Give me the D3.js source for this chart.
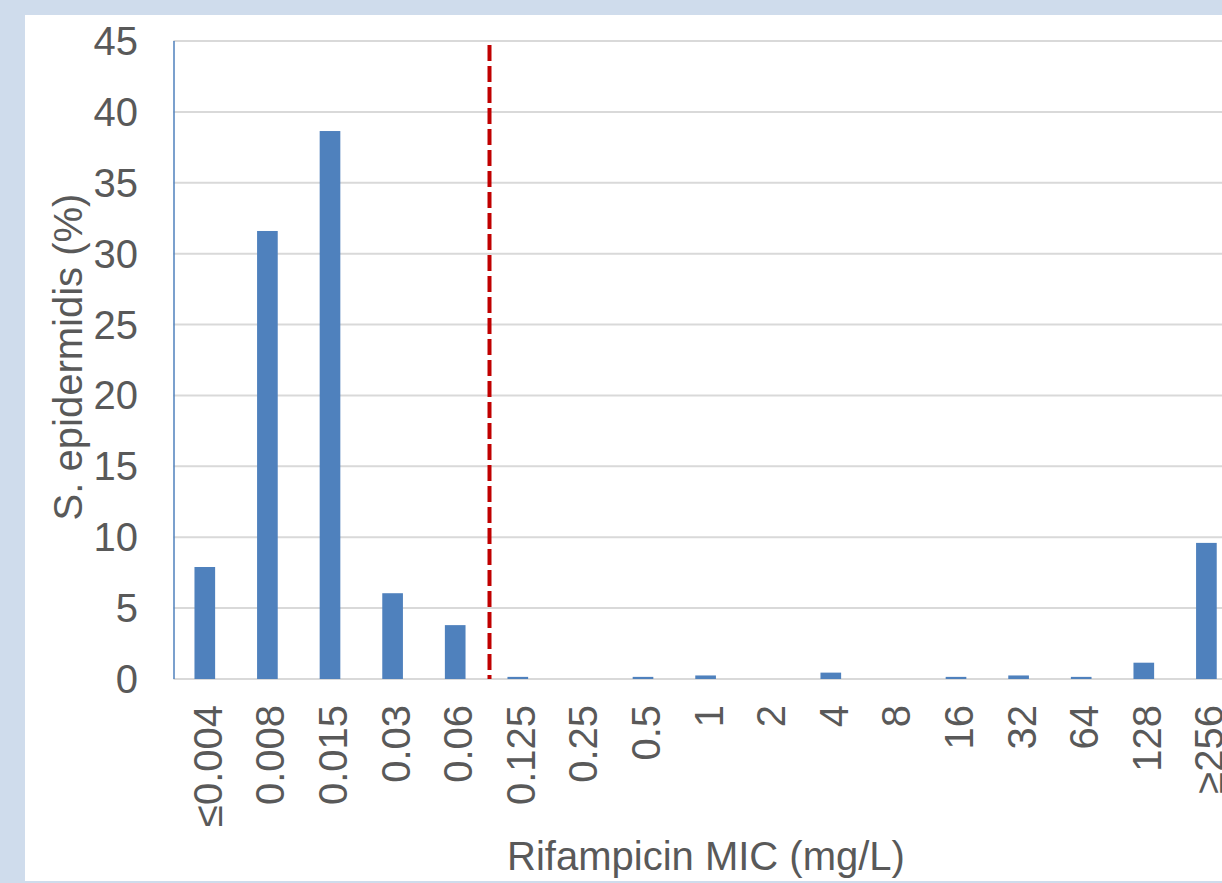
<!DOCTYPE html>
<html><head><meta charset="utf-8">
<script src="https://cdn.jsdelivr.net/npm/d3@7"></script>
<style>
html,body{margin:0;padding:0;background:#cfdcec;}
svg{display:block;font-family:"Liberation Sans",Arial,sans-serif;}
</style></head>
<body>
<svg id="c" width="1222" height="883"></svg>
<script>
const categories = ["≤0.004","0.008","0.015","0.03","0.06","0.125","0.25","0.5","1","2","4","8","16","32","64","128","≥256"];
const values = [7.9,31.6,38.65,6.05,3.8,0.15,0,0.15,0.25,0,0.45,0,0.15,0.25,0.15,1.15,9.6];
const yTicks = [0,5,10,15,20,25,30,35,40,45];
const breakpointAfter = "0.06";
const yTitle = "S. epidermidis (%)";
const xTitle = "Rifampicin MIC (mg/L)";

(function(){
const svg = d3.select("#c");
svg.append("rect").attr("x",0).attr("y",0).attr("width",1222).attr("height",883).attr("fill","#cfdcec");
svg.append("rect").attr("x",25).attr("y",15).attr("width",1197).attr("height",866).attr("fill","#ffffff");

const plotLeft = 173.5, plotTop = 41, plotBottom = 679;
const step = 62.6;
const x = d3.scaleBand().domain(categories).range([plotLeft, plotLeft + step*categories.length]).paddingInner(0.67).paddingOuter(0.335);
const y = d3.scaleLinear().domain([0,45]).range([plotBottom, plotTop]);

svg.append("g").selectAll("line").data(yTicks).join("line")
  .attr("x1", plotLeft).attr("x2", 1222)
  .attr("y1", d=>y(d)).attr("y2", d=>y(d))
  .attr("stroke", "#d9d9d9").attr("stroke-width", 2);

svg.append("g").selectAll("text").data(yTicks).join("text")
  .attr("x", 138).attr("y", d=>y(d)).attr("dy","0.35em")
  .attr("text-anchor","end").attr("font-size",40).attr("fill","#595959")
  .text(d=>d);

svg.append("line").attr("x1",plotLeft+0.5).attr("x2",plotLeft+0.5).attr("y1",y(45)).attr("y2",y(0))
  .attr("stroke","#4f81bd").attr("stroke-width",1.5);

svg.append("g").selectAll("rect").data(values).join("rect")
  .attr("x",(d,i)=>x(categories[i]))
  .attr("width",x.bandwidth())
  .attr("y",d=>y(d))
  .attr("height",d=>y(0)-y(d))
  .attr("fill","#4f81bd");

svg.append("g").selectAll("text").data(categories).join("text")
  .attr("transform",d=>`translate(${x(d)+x.bandwidth()/2+3},705) rotate(-90)`)
  .attr("dy","0.35em").attr("text-anchor","end")
  .attr("font-size",40).attr("fill","#595959")
  .text(d=>d);

const i0 = categories.indexOf(breakpointAfter);
const bx = (x(categories[i0]) + x(categories[i0+1]))/2 + x.bandwidth()/2 + 3;
svg.append("line").attr("x1",bx).attr("x2",bx).attr("y1",y(45)+4).attr("y2",y(0))
  .attr("stroke","#c00000").attr("stroke-width",4).attr("stroke-dasharray","16,5");

svg.append("text").attr("transform","translate(82,357) rotate(-90)")
  .attr("text-anchor","middle").attr("font-size",40).attr("fill","#595959").text(yTitle);
svg.append("text").attr("x",706).attr("y",870)
  .attr("text-anchor","middle").attr("font-size",40).attr("fill","#595959").text(xTitle);
})();
</script>
</body></html>
